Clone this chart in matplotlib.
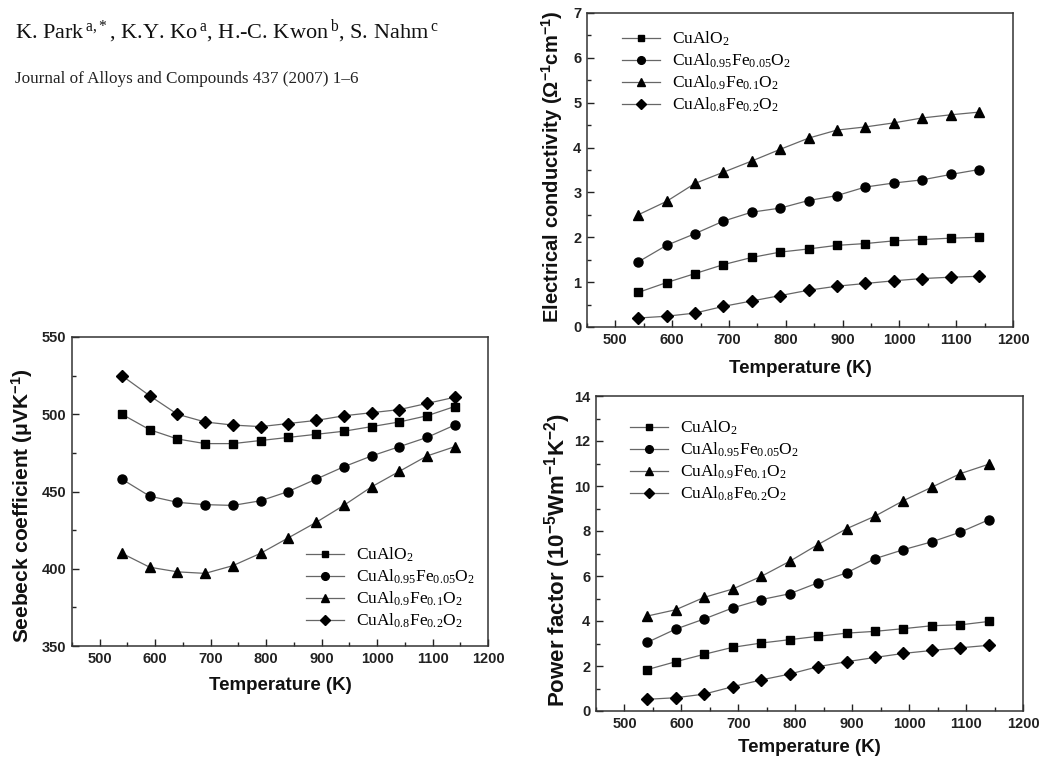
import matplotlib
matplotlib.use("Agg")
import matplotlib.pyplot as plt
from matplotlib.ticker import MultipleLocator

plt.rcParams['font.family'] = ['Liberation Sans', 'DejaVu Sans']
plt.rcParams['mathtext.fontset'] = 'custom'
plt.rcParams['mathtext.rm'] = 'Liberation Serif'
plt.rcParams['mathtext.it'] = 'Liberation Serif:italic'
plt.rcParams['mathtext.bf'] = 'Liberation Sans:bold'

# ---------------- data ----------------
temperature = [540, 590, 640, 690, 740, 790, 840, 890, 940, 990, 1040, 1090, 1140]

series_labels = [r'CuAlO$_2$',
                 r'CuAl$_{0.95}$Fe$_{0.05}$O$_2$',
                 r'CuAl$_{0.9}$Fe$_{0.1}$O$_2$',
                 r'CuAl$_{0.8}$Fe$_{0.2}$O$_2$']
series_markers = ['s', 'o', '^', 'D']
series_msize = [5.5, 6.5, 7, 6]

cond_CuAlO2 = [0.77, 0.99, 1.19, 1.39, 1.55, 1.67, 1.74, 1.82, 1.86, 1.92, 1.95, 1.98, 2.00]
cond_Fe005 = [1.45, 1.82, 2.08, 2.36, 2.56, 2.65, 2.82, 2.93, 3.12, 3.21, 3.28, 3.40, 3.51]
cond_Fe01 = [2.50, 2.80, 3.20, 3.45, 3.70, 3.96, 4.21, 4.39, 4.46, 4.55, 4.66, 4.73, 4.79]
cond_Fe02 = [0.20, 0.24, 0.31, 0.46, 0.58, 0.70, 0.82, 0.91, 0.97, 1.03, 1.08, 1.11, 1.13]

seeb_CuAlO2 = [500, 490, 484, 481, 481, 483, 485, 487, 489, 492, 495, 499, 505]
seeb_Fe005 = [458, 447, 443, 441.5, 441, 444, 450, 458, 466, 473, 479, 485, 493]
seeb_Fe01 = [410, 401, 398, 397, 402, 410, 420, 430, 441, 453, 463, 473, 479]
seeb_Fe02 = [525, 512, 500, 495, 493, 492, 494, 496, 499, 501, 503, 507, 511]

pf_CuAlO2 = [1.84, 2.19, 2.52, 2.83, 3.02, 3.17, 3.32, 3.46, 3.54, 3.66, 3.79, 3.83, 3.98]
pf_Fe005 = [3.05, 3.64, 4.09, 4.58, 4.95, 5.21, 5.70, 6.14, 6.77, 7.17, 7.52, 7.95, 8.50]
pf_Fe01 = [4.22, 4.50, 5.05, 5.42, 5.98, 6.65, 7.40, 8.10, 8.66, 9.35, 9.95, 10.55, 10.97]
pf_Fe02 = [0.52, 0.59, 0.75, 1.08, 1.38, 1.64, 1.97, 2.19, 2.38, 2.56, 2.69, 2.81, 2.92]

header_authors = (r'K. Park$\,^{\mathrm{a{,}*}}$, K.Y. Ko$\,^{\mathrm{a}}$, '
                  r'H.-C. Kwon$\,^{\mathrm{b}}$, S. Nahm$\,^{\mathrm{c}}$')
header_journal = 'Journal of Alloys and Compounds 437 (2007) 1\u20136'

# ---------------- figure ----------------
fig = plt.figure(figsize=(10.41, 7.57), dpi=100)
fig.patch.set_facecolor('white')

W, H = 1041.0, 757.0
def rect(l, t, r, b):
    return [l / W, (H - b) / H, (r - l) / W, (b - t) / H]

ax_c = fig.add_axes(rect(587, 13, 1013, 327))
ax_s = fig.add_axes(rect(72, 337, 488, 646))
ax_p = fig.add_axes(rect(596, 396, 1023, 711))

line_color = '#666666'

def style(ax, ylim, ymaj, ymin, ylabel, ylsize, ylab_xy, xpad):
    ax.set_xlim(450, 1200)
    ax.set_ylim(*ylim)
    ax.xaxis.set_major_locator(MultipleLocator(100))
    ax.xaxis.set_minor_locator(MultipleLocator(50))
    ax.yaxis.set_major_locator(MultipleLocator(ymaj))
    ax.yaxis.set_minor_locator(MultipleLocator(ymin))
    ax.tick_params(which='both', direction='in', top=False, right=False, width=1.0, color='#222222')
    ax.tick_params(which='major', length=5, pad=4)
    ax.tick_params(which='minor', length=3)
    for lab in ax.get_xticklabels() + ax.get_yticklabels():
        lab.set_fontsize(10.5)
        lab.set_fontweight('bold')
        lab.set_color('#222222')
    for sp in ax.spines.values():
        sp.set_linewidth(1.1)
        sp.set_color('#333333')
    ax.set_xlabel('Temperature (K)', fontsize=13.5, fontweight='bold', labelpad=xpad, color='#111111')
    ax.set_ylabel(ylabel, fontsize=ylsize, fontweight='bold', color='#111111')
    ax.yaxis.set_label_coords(*ylab_xy)

def plot_series(ax, data):
    for vals, lab, mk, ms in zip(data, series_labels, series_markers, series_msize):
        ax.plot(temperature, vals, color=line_color, lw=0.9, marker=mk, ms=ms,
                mfc='black', mec='black', label=lab)

plot_series(ax_c, [cond_CuAlO2, cond_Fe005, cond_Fe01, cond_Fe02])
plot_series(ax_s, [seeb_CuAlO2, seeb_Fe005, seeb_Fe01, seeb_Fe02])
plot_series(ax_p, [pf_CuAlO2, pf_Fe005, pf_Fe01, pf_Fe02])

style(ax_c, (0, 7), 1, 0.5, r'Electrical conductivity (Ω$\mathbf{^{-1}}$cm$\mathbf{^{-1}}$)', 14.5,
      ((565 - 587) / 426, 0.511), 10)
style(ax_s, (350, 550), 50, 25, r'Seebeck coefficient (μVK$\mathbf{^{-1}}$)', 15,
      ((35 - 72) / 416, 0.453), 8)
style(ax_p, (0, 14), 2, 1, r'Power factor (10$\mathbf{^{-5}}$Wm$\mathbf{^{-1}}$K$\mathbf{^{-2}}$)', 16,
      ((573 - 596) / 427, 0.479), 6)

leg_kw = dict(frameon=False, prop={'family': 'Liberation Serif', 'size': 12.5},
              handlelength=2.2, handletextpad=0.7, labelspacing=0.2, markerscale=0.85,
              borderpad=0, borderaxespad=0, loc='upper left')
ax_c.legend(bbox_to_anchor=((622 - 587) / 426, 1 - (30 - 13) / 314), **leg_kw)
ax_s.legend(bbox_to_anchor=((306 - 72) / 416, 1 - (546 - 337) / 309), **leg_kw)
ax_p.legend(bbox_to_anchor=((630 - 596) / 427, 1 - (419 - 396) / 315), **leg_kw)

fig.text(15 / W, 1 - 32 / H, header_authors, fontsize=16, family='Liberation Serif',
         va='center', ha='left', color='#111111')
fig.text(15 / W, 1 - 79 / H, header_journal, fontsize=12.3, family='Liberation Serif',
         va='center', ha='left', color='#222222')

fig.savefig('out.png', dpi=100, facecolor='white')
